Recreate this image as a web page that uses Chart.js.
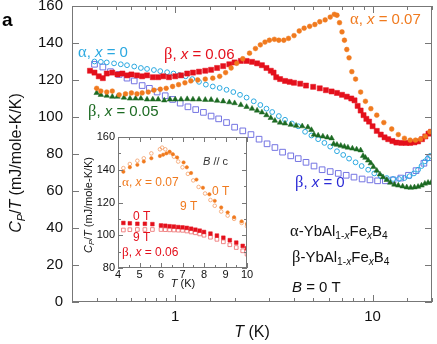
<!DOCTYPE html>
<html>
<head>
<meta charset="utf-8">
<script src="https://cdn.jsdelivr.net/npm/chart.js@4"></script>
<style>
html, body { margin: 0; padding: 0; background: #fff; }
#wrap { position: relative; width: 437px; height: 344px; }
#main { position: absolute; left: 0; top: 0; width: 437px; height: 344px; }
#inset { position: absolute; left: 80px; top: 130px; width: 175px; height: 170px; }
</style>
</head>
<body>
<div id="wrap">
  <canvas id="main" width="437" height="344"></canvas>
  <canvas id="inset" width="175" height="170"></canvas>
</div>
<script>
// main panel, T in K, Cp/T in mJ/mole-K/K
const alpha07T = [0.40, 0.42, 0.45, 0.48, 0.52, 0.56, 0.6, 0.64, 0.68, 0.73, 0.78, 0.84, 0.9, 0.97, 1.04, 1.12, 1.2, 1.3, 1.42, 1.55, 1.68, 1.8, 1.92, 2.05, 2.2, 2.38, 2.55, 2.7, 2.85, 3.0, 3.18, 3.35, 3.55, 3.75, 4.0, 4.25, 4.5, 4.8, 5.1, 5.4, 5.75, 6.1, 6.4, 6.6, 6.8, 7.0, 7.2, 7.4, 7.6, 7.85, 8.2, 8.7, 9.2, 9.8, 10.5, 11.4, 12.5, 13.5, 14.5, 15.5, 16.5, 17.5, 18.5, 19.5];
const alpha07Cp = [115.5, 114, 113.5, 114, 112, 112.5, 113, 112.5, 113, 113.5, 114.5, 115, 115.5, 116.5, 117.5, 118.5, 119.5, 120, 120.5, 121, 122, 124, 126.5, 129, 131.5, 134.5, 137, 139, 140.5, 141.5, 142, 141.5, 141.5, 142.5, 144, 146.5, 148, 149, 150, 151.5, 152.5, 154, 155.5, 155, 151, 146, 141.5, 136.5, 132, 124.5, 120.5, 113.5, 108.5, 104.5, 101, 97, 93.5, 90.5, 88.5, 87.5, 87.5, 88, 89.5, 92];

const beta06T = [0.37, 0.39, 0.41, 0.43, 0.45, 0.48, 0.51, 0.54, 0.57, 0.6, 0.64, 0.68, 0.72, 0.77, 0.82, 0.87, 0.93, 1.0, 1.07, 1.15, 1.23, 1.32, 1.42, 1.52, 1.63, 1.75, 1.88, 2.0, 2.15, 2.3, 2.45, 2.6, 2.75, 2.9, 3.05, 3.15, 3.25, 3.4, 3.6, 3.8, 4.0, 4.3, 4.6, 5.0, 5.4, 5.8, 6.2, 6.6, 7.0, 7.4, 7.8, 8.1, 8.4, 8.7, 9.0, 9.3, 9.6, 10.0, 10.5, 11.0, 11.5, 12.0, 12.6, 13.2, 14.0, 14.8, 15.5, 16.3, 17.0, 17.8, 18.5, 19.2, 19.8];
const beta06Cp = [125, 124, 122, 121, 123.5, 124, 123, 123.5, 122.5, 123, 122.5, 122, 122.5, 121.5, 121.5, 122, 121.5, 122, 122.5, 123.5, 124, 124.5, 125, 125.5, 126.5, 127.5, 128.5, 129.5, 130.3, 130.3, 129.8, 129, 128, 126.5, 125, 124, 121.5, 120.5, 119.5, 119, 118.5, 118, 117, 116.3, 115.5, 114.5, 113.8, 113, 112, 111, 110, 109, 106, 103.5, 101, 99, 97.5, 95, 92.5, 90.5, 89, 88, 87, 86.2, 86, 86, 86, 86.3, 86.8, 88, 89.5, 91, 92];

const beta05T = [0.40, 0.42, 0.45, 0.48, 0.51, 0.55, 0.59, 0.63, 0.67, 0.72, 0.77, 0.82, 0.88, 0.94, 1.0, 1.07, 1.15, 1.23, 1.32, 1.42, 1.52, 1.63, 1.75, 1.88, 2.0, 2.15, 2.3, 2.45, 2.6, 2.75, 2.9, 3.05, 3.2, 3.4, 3.6, 3.85, 4.1, 4.4, 4.7, 4.9, 5.05, 5.3, 5.6, 5.9, 6.2, 6.35, 6.6, 6.9, 7.2, 7.5, 7.9, 8.3, 8.7, 8.95, 9.2, 9.5, 9.8, 10.1, 10.5, 10.9, 11.3, 11.8, 12.3, 12.9, 13.5, 14.2, 14.9, 15.6, 16.3, 17.0, 17.7, 18.4, 19.1, 19.8];
const beta05Cp = [113, 112, 111.5, 111, 111, 110.5, 110, 110, 110, 109.5, 109.5, 109.5, 109, 109.5, 109.5, 109.5, 109.7, 109.5, 109.5, 109.3, 109.3, 108.8, 108.5, 108, 107.5, 106.5, 105.5, 104.5, 103.5, 102.5, 101, 99.5, 98, 97, 96.5, 95.8, 95.3, 95, 94.5, 93, 90.5, 90, 89.5, 89, 88.5, 85.5, 85, 84.5, 84, 83.5, 83, 82.5, 82, 79, 78, 76.5, 75, 73, 71, 69, 67.5, 66, 64.5, 63.5, 63, 62.5, 62, 61.8, 62, 62.3, 63, 64, 64.5, 64.5];

const alpha0T = [0.39, 0.42, 0.45, 0.49, 0.53, 0.57, 0.62, 0.67, 0.72, 0.78, 0.84, 0.91, 0.98, 1.05, 1.13, 1.22, 1.32, 1.43, 1.55, 1.68, 1.82, 1.97, 2.13, 2.3, 2.5, 2.7, 2.9, 3.1, 3.35, 3.6, 3.9, 4.2, 4.55, 4.9, 5.3, 5.7, 6.1, 6.6, 7.1, 7.6, 8.2, 8.8, 9.5, 10.2, 11.0, 11.8, 12.7, 13.6, 14.5, 15.4, 16.2, 17.0, 17.7, 18.4, 19.0, 19.6];
const alpha0Cp = [130, 129.8, 129.5, 129, 128.5, 128, 127.3, 126.5, 126, 125.4, 124.8, 124.2, 123.5, 122.7, 122, 120.5, 119, 117.5, 116.5, 115.7, 114.7, 113.5, 112, 110.5, 108.5, 106.5, 104.5, 102.7, 100.5, 98.5, 96.5, 95, 92, 90, 88, 86, 84, 81.5, 79.5, 77.5, 75.5, 73.5, 71.5, 69.5, 68, 67, 66.5, 66.5, 67, 68, 69.5, 71.5, 73.5, 76, 77.5, 79];

const beta0T = [0.39, 0.43, 0.47, 0.52, 0.57, 0.62, 0.68, 0.74, 0.81, 0.89, 0.97, 1.06, 1.16, 1.27, 1.39, 1.52, 1.66, 1.82, 2.0, 2.2, 2.42, 2.66, 2.92, 3.2, 3.5, 3.85, 4.2, 4.6, 5.05, 5.55, 6.1, 6.7, 7.35, 8.05, 8.85, 9.7, 10.6, 11.6, 12.7, 13.9, 15.2, 16.6, 18.2, 19.5];
const beta0Cp = [128.5, 127, 124.5, 123, 121, 119.5, 117, 115.5, 113.5, 111.5, 109.5, 107.5, 105.5, 104, 102.5, 100.5, 99, 97, 94.5, 92.5, 90.5, 88, 85.5, 83.5, 81, 79, 77.5, 75.5, 73.5, 71.5, 70.5, 69.5, 68.5, 67.5, 66.5, 66, 65.5, 65.5, 66, 67, 68.5, 71, 75, 78];

// inset, 0 T and 9 T
const insetAlphaT0 = [4.25, 4.55, 4.9, 5.2, 5.55, 5.95, 6.1, 6.25, 6.4, 6.55, 6.75, 7.05, 7.2, 7.4, 7.65, 7.95, 8.25, 8.5, 8.8, 9.1, 9.4, 9.75, 10.0];
const insetAlphaCp0 = [138.8, 141.5, 143, 145, 147, 148.4, 149.2, 150, 151, 149.5, 147.5, 144.5, 141.5, 138, 134, 129, 125, 121, 117, 114, 111, 108.5, 107];
const insetAlphaT9 = [4.25, 4.55, 4.9, 5.2, 5.55, 5.95, 6.05, 6.2, 6.4, 6.6, 6.8, 7.0, 7.25, 7.5, 7.75, 8.05, 8.3, 8.5, 8.8, 9.1, 9.4, 9.75, 10.0];
const insetAlphaCp9 = [141, 143.5, 145.5, 147, 150, 152.5, 153.5, 152.5, 150.5, 148, 145, 141.5, 137.5, 133.5, 129.5, 125.5, 121.5, 118, 114.5, 112, 110, 107.5, 105.5];
const insetBetaT = [4.25, 4.55, 4.9, 5.25, 5.6, 6.0, 6.2, 6.4, 6.6, 6.8, 7.0, 7.2, 7.4, 7.6, 7.8, 8.0, 8.3, 8.6, 8.9, 9.2, 9.5, 9.8, 10.0];
const insetBetaCp0 = [107.5, 107.3, 107, 107, 106.8, 106, 105.8, 105.5, 105.3, 105, 104.8, 104.5, 104, 103.4, 102.8, 102, 101, 99.8, 98.5, 97, 95.5, 93.5, 92];
const insetBetaCp9 = [103.2, 103.4, 103.5, 103.5, 103.5, 103.5, 103.4, 103.3, 103.2, 103.1, 103, 102.6, 102, 101.5, 100.8, 100, 98.8, 97.5, 96, 94.2, 92.5, 90.5, 88.5];

const FONT = '"Liberation Sans", Arial, sans-serif';
const SERIF = '"Liberation Serif", "Times New Roman", serif';

const cCyan = '#2aa8e0';
const cRed = '#e4101c';
const cOrange = '#f07a1e';
const cGreen = '#1c6a22';
const cBlue = '#7474e2';
const cBlueText = '#2a2ad6';

function pts(xs, ys) {
    return xs.map((x, i) => ({ x: x, y: ys[i] }));
}

// parts: [text, flags]  i = italic, s = subscript, g = greek (serif), b = bold
function drawRich(ctx, x, y, parts, size, color, align) {
    ctx.save();
    ctx.fillStyle = color;
    ctx.textBaseline = 'middle';
    ctx.textAlign = 'left';
    const fontOf = f => (f.includes('i') ? 'italic ' : '') + (f.includes('b') ? 'bold ' : '') +
        (f.includes('s') ? size * 0.68 : (f.includes('g') ? size * 1.1 : size)) + 'px ' + (f.includes('g') ? SERIF : FONT);
    let w = 0;
    parts.forEach(([t, f]) => { ctx.font = fontOf(f); w += ctx.measureText(t).width; });
    let cx = align === 'center' ? x - w / 2 : x;
    parts.forEach(([t, f]) => {
        ctx.font = fontOf(f);
        ctx.fillText(t, cx, y + (f.includes('s') ? size * 0.3 : 0));
        cx += ctx.measureText(t).width;
    });
    ctx.restore();
}

function drawRotated(ctx, x, y, parts, size, color) {
    ctx.save();
    ctx.translate(x, y);
    ctx.rotate(-Math.PI / 2);
    drawRich(ctx, 0, 0, parts, size, color, 'center');
    ctx.restore();
}

// frame + inward ticks on all four sides
function frameTicks(isMajorX, isMajorY, majLen, minLen, fillWhite) {
    return {
        id: 'frameTicks',
        beforeDatasetsDraw(chart) {
            if (!fillWhite) return;
            const a = chart.chartArea;
            chart.ctx.save();
            chart.ctx.fillStyle = '#fff';
            chart.ctx.fillRect(a.left, a.top, a.right - a.left, a.bottom - a.top);
            chart.ctx.restore();
        },
        afterDatasetsDraw(chart) {
            const ctx = chart.ctx;
            const a = chart.chartArea;
            const sx = chart.scales.x, sy = chart.scales.y;
            ctx.save();
            ctx.strokeStyle = '#777';
            ctx.lineWidth = 1;
            ctx.strokeRect(a.left + 0.5, a.top + 0.5, a.right - a.left - 1, a.bottom - a.top - 1);
            ctx.beginPath();
            sx.ticks.forEach(t => {
                const px = Math.round(sx.getPixelForValue(t.value)) + 0.5;
                const len = isMajorX(t.value) ? majLen : minLen;
                ctx.moveTo(px, a.bottom); ctx.lineTo(px, a.bottom - len);
                ctx.moveTo(px, a.top); ctx.lineTo(px, a.top + len);
            });
            sy.ticks.forEach(t => {
                const py = Math.round(sy.getPixelForValue(t.value)) + 0.5;
                const len = isMajorY(t.value) ? majLen : minLen;
                ctx.moveTo(a.left, py); ctx.lineTo(a.left + len, py);
                ctx.moveTo(a.right, py); ctx.lineTo(a.right - len, py);
            });
            ctx.stroke();
            ctx.restore();
        }
    };
}

const noPadding = () => ({ left: 0, top: 0, right: 0, bottom: 0 });
const isDecade = v => Math.abs(v - 1) < 1e-9 || Math.abs(v - 10) < 1e-9;

const mainLabels = {
    id: 'mainLabels',
    afterDraw(chart) {
        const ctx = chart.ctx;
        drawRich(ctx, 2, 21, [['a', 'b']], 19, '#000');
        drawRich(ctx, 78, 53, [['α', 'g'], [', ', ''], ['x', 'i'], [' = 0', '']], 15, cCyan);
        drawRich(ctx, 164, 55, [['β', 'g'], [', ', ''], ['x', 'i'], [' = 0.06', '']], 15, cRed);
        drawRich(ctx, 88, 112, [['β', 'g'], [', ', ''], ['x', 'i'], [' = 0.05', '']], 15, cGreen);
        drawRich(ctx, 350, 20, [['α', 'g'], [', ', ''], ['x', 'i'], [' = 0.07', '']], 15, cOrange);
        drawRich(ctx, 295, 183, [['β', 'g'], [', ', ''], ['x', 'i'], [' = 0', '']], 15, cBlueText);
        drawRich(ctx, 290, 232, [['α', 'g'], ['-YbAl', ''], ['1-', 's'], ['x', 'si'], ['Fe', ''], ['x', 'si'], ['B', ''], ['4', 's']], 15, '#111');
        drawRich(ctx, 292, 258, [['β', 'g'], ['-YbAl', ''], ['1-', 's'], ['x', 'si'], ['Fe', ''], ['x', 'si'], ['B', ''], ['4', 's']], 15, '#111');
        drawRich(ctx, 292, 288, [['B', 'i'], [' = 0 T', '']], 15, '#111');
        drawRich(ctx, 252, 333, [['T', 'i'], [' (K)', '']], 16, '#111', 'center');
        drawRotated(ctx, 17, 163, [['C', 'i'], ['P', 'is'], ['/', ''], ['T', 'i'], [' (mJ/mole-K/K)', '']], 16, '#111');
    }
};

const insetLabels = {
    id: 'insetLabels',
    afterDraw(chart) {
        const ctx = chart.ctx;
        drawRich(ctx, 123, 32, [['B', 'i'], [' // c', '']], 11, '#333');
        drawRich(ctx, 42, 53, [['α', 'g'], [', ', ''], ['x', 'i'], [' = 0.07', '']], 12, cOrange);
        drawRich(ctx, 132, 62, [['0 T', '']], 12, cOrange);
        drawRich(ctx, 100, 77, [['9 T', '']], 12, cOrange);
        drawRich(ctx, 53, 87, [['0 T', '']], 12, cRed);
        drawRich(ctx, 53, 108, [['9 T', '']], 12, cRed);
        drawRich(ctx, 42, 123, [['β', 'g'], [', ', ''], ['x', 'i'], [' = 0.06', '']], 12, cRed);
        drawRich(ctx, 103, 154, [['T', 'i'], [' (K)', '']], 11, '#111', 'center');
        drawRotated(ctx, 9, 75, [['C', 'i'], ['P', 'is'], ['/', ''], ['T', 'i'], [' (mJ/mole-K/K)', '']], 11, '#111');
    }
};

new Chart(document.getElementById('main'), {
    type: 'scatter',
    data: {
        datasets: [
            { data: pts(alpha07T, alpha07Cp), pointStyle: 'circle', pointRadius: 2.4, pointBackgroundColor: cOrange, pointBorderColor: cOrange, pointBorderWidth: 0.5 },
            { data: pts(beta06T, beta06Cp), pointStyle: 'rect', pointRadius: 3.6, pointBackgroundColor: cRed, pointBorderColor: cRed, pointBorderWidth: 0.5 },
            { data: pts(beta05T, beta05Cp), pointStyle: 'triangle', pointRadius: 3.2, pointBackgroundColor: cGreen, pointBorderColor: cGreen, pointBorderWidth: 0.5 },
            { data: pts(alpha0T, alpha0Cp), pointStyle: 'circle', pointRadius: 2.4, pointBackgroundColor: 'rgba(0,0,0,0)', pointBorderColor: cCyan, pointBorderWidth: 1 },
            { data: pts(beta0T, beta0Cp), pointStyle: 'rect', pointRadius: 4, pointBackgroundColor: 'rgba(0,0,0,0)', pointBorderColor: cBlue, pointBorderWidth: 1 }
        ]
    },
    options: {
        responsive: false,
        animation: false,
        layout: { padding: { left: 0, top: 6, right: 2, bottom: 0 } },
        plugins: { legend: { display: false }, tooltip: { enabled: false } },
        scales: {
            x: {
                type: 'logarithmic',
                min: 0.3,
                max: 20,
                grid: { display: false, drawTicks: false },
                border: { display: false },
                ticks: {
                    autoSkip: false,
                    maxRotation: 0,
                    padding: 6,
                    color: '#111',
                    font: { family: FONT, size: 15 },
                    callback: v => isDecade(v) ? String(Math.round(v)) : ''
                },
                afterFit: s => { s.height = 42; s.paddingLeft = 0; s.paddingRight = 0; s.getPadding = noPadding; }
            },
            y: {
                min: 0,
                max: 160,
                grid: { display: false, drawTicks: false },
                border: { display: false },
                ticks: {
                    stepSize: 20,
                    padding: 9,
                    color: '#111',
                    font: { family: FONT, size: 15 }
                },
                afterFit: s => { s.width = 72; s.paddingTop = 0; s.paddingBottom = 0; s.getPadding = noPadding; }
            }
        }
    },
    plugins: [frameTicks(isDecade, () => true, 7, 4, false), mainLabels]
});

new Chart(document.getElementById('inset'), {
    type: 'scatter',
    data: {
        datasets: [
            { data: pts(insetAlphaT0, insetAlphaCp0), pointStyle: 'circle', pointRadius: 1.7, pointBackgroundColor: cOrange, pointBorderColor: cOrange, pointBorderWidth: 0.5 },
            { data: pts(insetAlphaT9, insetAlphaCp9), pointStyle: 'circle', pointRadius: 1.8, pointBackgroundColor: 'rgba(0,0,0,0)', pointBorderColor: '#f4a068', pointBorderWidth: 0.8 },
            { data: pts(insetBetaT, insetBetaCp0), pointStyle: 'rect', pointRadius: 2.6, pointBackgroundColor: cRed, pointBorderColor: cRed, pointBorderWidth: 0.5 },
            { data: pts(insetBetaT, insetBetaCp9), pointStyle: 'rect', pointRadius: 2.6, pointBackgroundColor: 'rgba(0,0,0,0)', pointBorderColor: '#ec6a6a', pointBorderWidth: 0.8 }
        ]
    },
    options: {
        responsive: false,
        maintainAspectRatio: false,
        animation: false,
        layout: { padding: { left: 0, top: 7, right: 8, bottom: 0 } },
        plugins: { legend: { display: false }, tooltip: { enabled: false } },
        scales: {
            x: {
                min: 4,
                max: 10,
                grid: { display: false, drawTicks: false },
                border: { display: false },
                ticks: {
                    stepSize: 0.5,
                    autoSkip: false,
                    maxRotation: 0,
                    padding: 0,
                    color: '#111',
                    font: { family: FONT, size: 11 },
                    callback: v => Number.isInteger(v) ? String(v) : ''
                },
                afterFit: s => { s.height = 32; s.paddingLeft = 0; s.paddingRight = 0; }
            },
            y: {
                min: 80,
                max: 160,
                grid: { display: false, drawTicks: false },
                border: { display: false },
                ticks: {
                    stepSize: 10,
                    autoSkip: false,
                    padding: 3,
                    color: '#111',
                    font: { family: FONT, size: 11 },
                    callback: v => v % 20 === 0 ? String(v) : ''
                },
                afterFit: s => { s.width = 38; s.paddingTop = 0; s.paddingBottom = 0; }
            }
        }
    },
    plugins: [frameTicks(v => Number.isInteger(v), v => v % 20 === 0, 5, 3, true), insetLabels]
});
</script>
</body>
</html>
